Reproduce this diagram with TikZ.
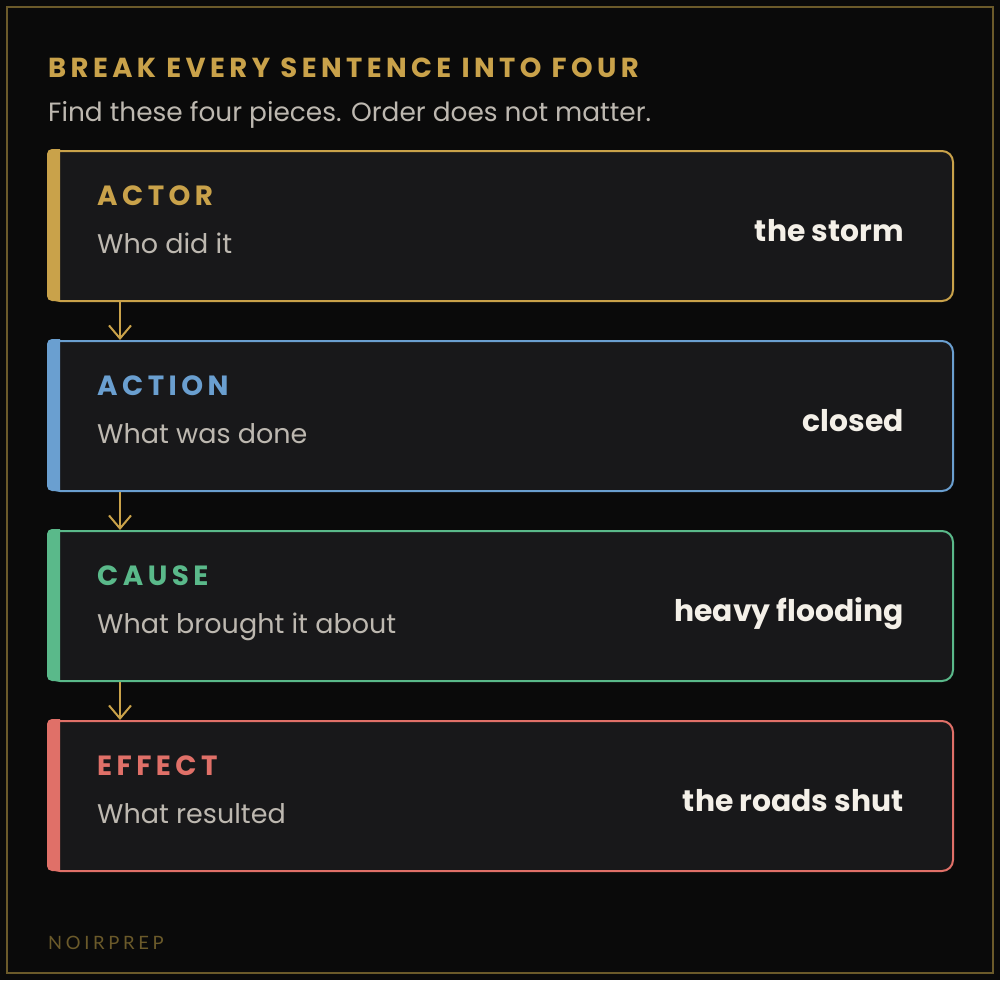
\documentclass[tikz,border=0pt]{standalone}
\usepackage{fontspec}
\setmainfont{Poppins}
\newfontfamily\trackfont{Poppins}[LetterSpace=16]
\newfontfamily\footfont{Lato}[LetterSpace=20]
\usetikzlibrary{arrows.meta,calc}
\definecolor{bg}{HTML}{0A0A0A}
\definecolor{frame}{HTML}{6B5A2A}
\definecolor{card}{HTML}{18181A}
\definecolor{gold}{HTML}{C9A24A}
\definecolor{blue}{HTML}{6A9FD0}
\definecolor{green}{HTML}{5AB98A}
\definecolor{red}{HTML}{E07068}
\definecolor{sub}{HTML}{BDB8B0}
\definecolor{val}{HTML}{F4F0E8}
\tikzset{
  card/.style={draw=#1, line width=2pt, fill=card, rounded corners=11pt,
    minimum width=904pt, minimum height=150pt, anchor=north west, inner sep=0pt},
  lbl/.style={text=#1, anchor=base west, inner sep=0pt, font=\trackfont\bfseries\fontsize{27.8}{32}\selectfont},
  desc/.style={text=sub, anchor=base west, inner sep=0pt, font=\fontsize{27}{31}\selectfont},
  value/.style={text=val, anchor=base east, inner sep=0pt, font=\bfseries\fontsize{29.8}{34}\selectfont},
  flow/.style={draw=gold, line width=2pt, -{Straight Barb[length=13pt,width=22pt,line width=2pt]}}
}
\newcommand{\mycard}[6]{%
  \node[card=#2] (#1) at (48,#3) {};
  \fill[#2] (60,#3-1) [rounded corners=5pt]-- (47,#3-1) -- (47,#3+151) [sharp corners]-- (60,#3+151) -- cycle;
  \node[lbl=#2] (#1l) at (97,#3+55) {#4};
  \node[desc] (#1d) at (97,#3+103) {#5};
  \node[value] (#1v) at (904,#3+91) {#6};
}
\begin{document}
\begin{tikzpicture}[x=1pt,y=-1pt]
\fill[bg] (0,0) rectangle (1000,980);
\useasboundingbox (0,0) rectangle (1000,980);
\draw[frame, line width=1.5pt] (7,7) rectangle (993,973);
\node[text=gold, anchor=base west, inner sep=0pt, font=\trackfont\bfseries\fontsize{27.5}{32}\selectfont] (title) at (48,77) {BREAK EVERY SENTENCE INTO FOUR};
\node[text=sub, anchor=base west, inner sep=0pt, font=\fontsize{26.4}{30}\selectfont] (subtitle) at (48,121) {Find these four pieces. Order does not matter.};
\mycard{b1}{gold}{150}{ACTOR}{Who did it}{the storm}
\mycard{b2}{blue}{340}{ACTION}{What was done}{closed}
\mycard{b3}{green}{530}{CAUSE}{What brought it about}{heavy flooding}
\mycard{b4}{red}{720}{EFFECT}{What resulted}{the roads shut}
\draw[flow] ($(b1.south west)+(72,0)$) -- ($(b2.north west)+(72,0)$);
\draw[flow] ($(b2.south west)+(72,0)$) -- ($(b3.north west)+(72,0)$);
\draw[flow] ($(b3.south west)+(72,0)$) -- ($(b4.north west)+(72,0)$);
\node[text=frame, anchor=base west, inner sep=0pt, font=\footfont\fontsize{18.4}{22}\selectfont] (foot) at (48,949) {NOIRPREP};
\end{tikzpicture}
\end{document}
